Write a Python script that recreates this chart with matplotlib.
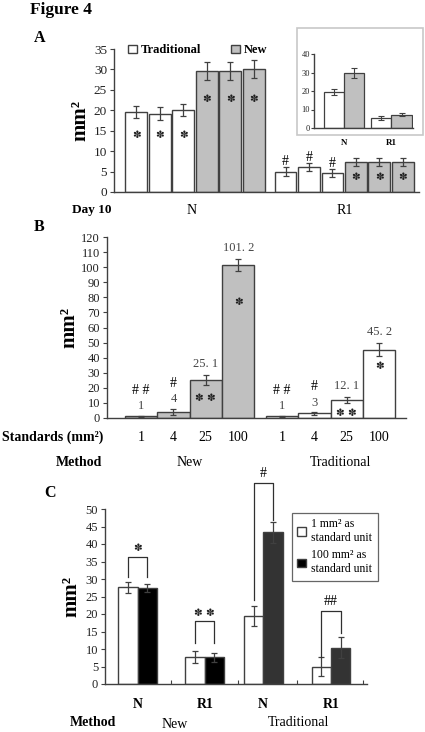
import numpy as np
import matplotlib
matplotlib.use('Agg')
import matplotlib.pyplot as plt
from matplotlib.patches import Rectangle, Patch

plt.rcParams['font.family'] = ['Liberation Serif', 'DejaVu Serif']
plt.rcParams['font.size'] = 8

W, H = 425, 732

# ---- datos panel A (Day 10, N y R1) ----
a_trad_N = [19.5, 19.2, 20.0]
a_new_N = [29.5, 29.7, 30.2]
a_trad_R1 = [5.0, 6.1, 4.6]
a_new_R1 = [7.3, 7.3, 7.3]
a_err_trad_N = [1.5, 1.5, 1.5]
a_err_new_N = [2.2, 2.2, 2.2]
a_err_trad_R1 = [1.0, 1.0, 1.0]
a_err_new_R1 = [0.9, 0.9, 0.9]
a_yticks = [0, 5, 10, 15, 20, 25, 30, 35]

# inset A
ins_cats = ['N', 'R1']
ins_trad = [19.5, 5.3]
ins_new = [29.7, 7.2]
ins_err_trad = [1.8, 1.2]
ins_err_new = [2.8, 0.9]

# ---- datos panel B ----
b_standards = ['1', '4', '25', '100']
b_new = [1.0, 4.0, 25.1, 101.2]
b_trad = [1.0, 3.0, 12.1, 45.2]
b_err_new = [0.4, 2.0, 3.3, 4.0]
b_err_trad = [0.4, 0.7, 1.9, 4.4]
b_new_marks = ['# #', '#', '**', '*']
b_trad_marks = ['# #', '#', '**', '*']

# ---- datos panel C ----
c_cats = ['N', 'R1', 'N', 'R1']
c_1mm = [27.6, 7.7, 19.5, 5.0]
c_100mm = [27.5, 7.6, 43.3, 10.4]
c_err_1mm = [1.5, 1.6, 2.8, 2.8]
c_err_100mm = [1.1, 1.3, 3.0, 3.1]
c_sig = ['*', '**', '#', '##']
c_colors_100 = ['#000000', '#000000', '#333333', '#333333']


def px_axes(l, t, r, b):
    return fig.add_axes([l / W, 1 - b / H, (r - l) / W, (b - t) / H])


def ftext(x, y, s, **kw):
    fig.text(x / W, 1 - y / H, s, **kw)


def style(ax, ls=9):
    for s in ['top', 'right']:
        ax.spines[s].set_visible(False)
    for s in ['left', 'bottom']:
        ax.spines[s].set_color('#404040')
        ax.spines[s].set_linewidth(1.0)
    ax.tick_params(axis='y', length=3, color='#404040', labelsize=ls, pad=2, labelcolor='#222222')


def star(ax, x, y, n=1, size=7.5, **kw):
    # asterisco tipo flor como en la figura original
    s = '\u273d' * n if n == 1 else ' '.join(['\u273d'] * n)
    ax.text(x, y, s, ha='center', va='center', fontsize=size, color='#202020',
            family=['DejaVu Sans'], **kw)


fig = plt.figure(figsize=(W / 100, H / 100), dpi=100)

ec = '#404040'
gray = '#c0c0c0'
ekw = dict(ecolor='#404040', elinewidth=0.9, capsize=2.5, capthick=0.9)

ftext(30, 10, 'Figure 4', fontsize=12.5, fontweight='bold', va='center')

# =============== A ===============
ftext(34, 38, 'A', fontsize=11.5, fontweight='bold', va='center')
axA = px_axes(114, 49, 419, 192)
style(axA, 9.5)
xN = np.arange(6)
xR = 6.36 + np.arange(6)
axA.bar(xN[:3], a_trad_N, 0.93, yerr=a_err_trad_N, color='white', edgecolor=ec, lw=1, error_kw=ekw)
axA.bar(xN[3:], a_new_N, 0.93, yerr=a_err_new_N, color=gray, edgecolor=ec, lw=1, error_kw=ekw)
axA.bar(xR[:3], a_trad_R1, 0.93, yerr=a_err_trad_R1, color='white', edgecolor=ec, lw=1, error_kw=ekw)
axA.bar(xR[3:], a_new_R1, 0.93, yerr=a_err_new_R1, color=gray, edgecolor=ec, lw=1, error_kw=ekw)
for x in xN[:3]:
    star(axA, x, 14.0)
for x in xN[3:]:
    star(axA, x, 22.8)
for x, v, e in zip(xR[:3], a_trad_R1, a_err_trad_R1):
    axA.text(x, v + e + 1.4, '#', ha='center', va='center', fontsize=10)
for x in xR[3:]:
    star(axA, x, 3.6)
axA.set_ylim(0, 35)
axA.set_yticks(a_yticks)
axA.set_xlim(-0.95, 12.05)
axA.set_xticks([])
axA.set_ylabel('mm²', fontsize=15, fontweight='bold', labelpad=2)
hA = [Patch(facecolor='white', edgecolor=ec, label='Traditional'),
      Patch(facecolor=gray, edgecolor=ec, label='New')]
axA.legend(handles=hA, loc='upper left', bbox_to_anchor=(122 / W, 1 - 38 / H),
           bbox_transform=fig.transFigure, ncol=2, frameon=False, handlelength=0.7,
           handleheight=0.7, handletextpad=0.3, columnspacing=2.4, borderpad=0,
           prop={'weight': 'bold', 'size': 9})
ftext(72, 210, 'Day 10', fontsize=9.5, fontweight='bold', va='center')
ftext(192, 211, 'N', fontsize=10, ha='center', va='center')
ftext(345, 211, 'R1', fontsize=10, ha='center', va='center')

# inset
fig.patches.append(Rectangle((297 / W, 1 - 135 / H), 126 / W, 107 / H, transform=fig.transFigure,
                             facecolor='white', edgecolor='#c8c8c8', lw=1.2, zorder=2))
axI = px_axes(314, 54, 413, 128)
axI.set_zorder(3)
axI.patch.set_alpha(0)
style(axI)
xi = np.arange(len(ins_cats))
ekw_i = dict(ecolor='#404040', elinewidth=0.8, capsize=2, capthick=0.8)
axI.bar(xi - 0.21, ins_trad, 0.42, yerr=ins_err_trad, color='white', edgecolor=ec, lw=0.9, error_kw=ekw_i)
axI.bar(xi + 0.21, ins_new, 0.42, yerr=ins_err_new, color=gray, edgecolor=ec, lw=0.9, error_kw=ekw_i)
axI.set_ylim(0, 40)
axI.set_yticks([0, 10, 20, 30, 40])
axI.tick_params(axis='y', labelsize=6, length=2, pad=1)
axI.set_xlim(-0.62, 1.45)
axI.set_xticks([])
for x, c in zip(xi, ins_cats):
    axI.text(x, -0.2, c, transform=axI.get_xaxis_transform(), ha='center', va='center',
             fontsize=6.5, fontweight='bold')

# =============== B ===============
ftext(34, 227, 'B', fontsize=11.5, fontweight='bold', va='center')
axB = px_axes(107, 237, 406, 418)
style(axB, 9)
xbN = np.arange(4)
xbT = 4.35 + np.arange(4)
axB.bar(xbN, b_new, 1.0, yerr=b_err_new, color=gray, edgecolor=ec, lw=1, error_kw=ekw)
axB.bar(xbT, b_trad, 1.0, yerr=b_err_trad, color='white', edgecolor=ec, lw=1, error_kw=ekw)
axB.set_ylim(0, 120)
axB.set_yticks(np.arange(0, 121, 10))
axB.set_xlim(-1.05, 8.18)
axB.set_xticks([])
axB.set_ylabel('mm²', fontsize=15, fontweight='bold', labelpad=1)
for xs, vals, errs, marks in [(xbN, b_new, b_err_new, b_new_marks), (xbT, b_trad, b_err_trad, b_trad_marks)]:
    for i, (x, v, e, m) in enumerate(zip(xs, vals, errs, marks)):
        lab = ('%g' % v).replace('.', '. ')
        if v < 10:
            axB.text(x, v + e + 6.5, lab, ha='center', va='center', fontsize=9, color='#444444')
            axB.text(x, v + e + 17, m, ha='center', va='center', fontsize=10)
        else:
            axB.text(x, v + e + 7.5, lab, ha='center', va='center', fontsize=9, color='#444444')
            ystar = v * 0.76 if v > 40 else v * 0.52 + (0 if v > 20 else -3)
            star(axB, x, ystar, n=len(m))
for x, s in zip(list(xbN) + list(xbT), b_standards * 2):
    axB.text(x, -0.105, s, transform=axB.get_xaxis_transform(), ha='center', va='center', fontsize=10)
ftext(2, 437, 'Standards (mm²)', fontsize=10, fontweight='bold', va='center')
ftext(56, 463, 'Method', fontsize=10, fontweight='bold', va='center')
ftext(190, 463, 'New', fontsize=10, ha='center', va='center')
ftext(340, 463, 'Traditional', fontsize=10, ha='center', va='center')

# =============== C ===============
ftext(44, 493, 'C', fontsize=11.5, fontweight='bold', va='center')
axC = px_axes(105, 509, 367, 684)
style(axC, 9)
xc = np.array([0.49, 1.5, 2.38, 3.4])
bw = 0.29
axC.bar(xc - bw / 2, c_1mm, bw, yerr=c_err_1mm, color='white', edgecolor=ec, lw=1, error_kw=ekw,
        label='1 mm² as\nstandard unit')
axC.bar(xc + bw / 2, c_100mm, bw, yerr=c_err_100mm, color=c_colors_100, edgecolor=ec, lw=1, error_kw=ekw,
        label='100 mm² as\nstandard unit')
axC.set_ylim(0, 50)
axC.set_yticks(np.arange(0, 51, 5))
axC.set_xlim(0, 3.94)
axC.set_xticks([0.99, 2.0, 2.89, 3.88])
axC.set_xticklabels([])
axC.tick_params(axis='x', direction='in', length=3, color='#404040')
axC.set_ylabel('mm²', fontsize=15, fontweight='bold', labelpad=3)
# corchetes de significancia
br_top = [36.4, 17.9, 57.5, 21.0]
br_left = [30.7, 11.8, 24.0, 7.8]
br_right = [30.5, 11.8, 46.9, 14.5]
for x, t, l, r, s in zip(xc, br_top, br_left, br_right, c_sig):
    x0, x1 = x - bw / 2, x + bw / 2
    axC.plot([x0, x0, x1, x1], [l, t, t, r], color='#303030', lw=0.9, clip_on=False)
    if '*' in s:
        star(axC, x, t + 2.4, n=len(s), clip_on=False)
    else:
        axC.text(x, t + 2.6, s, ha='center', va='center', fontsize=10, clip_on=False)
legC = axC.legend(loc='upper left', bbox_to_anchor=(292 / W, 1 - 513 / H), bbox_transform=fig.transFigure,
                  fancybox=False, edgecolor='#404040', handlelength=0.7, handleheight=0.7,
                  handletextpad=0.5, borderpad=0.45, labelspacing=0.45, borderaxespad=0,
                  prop={'size': 8.5})
legC.get_frame().set_linewidth(0.9)
for x, c in zip(xc, c_cats):
    axC.text(x, -0.115, c, transform=axC.get_xaxis_transform(), ha='center', va='center',
             fontsize=10, fontweight='bold')
ftext(70, 723, 'Method', fontsize=10, fontweight='bold', va='center')
ftext(175, 725, 'New', fontsize=10, ha='center', va='center')
ftext(298, 723, 'Traditional', fontsize=10, ha='center', va='center')

plt.savefig('out.png', dpi=100)
